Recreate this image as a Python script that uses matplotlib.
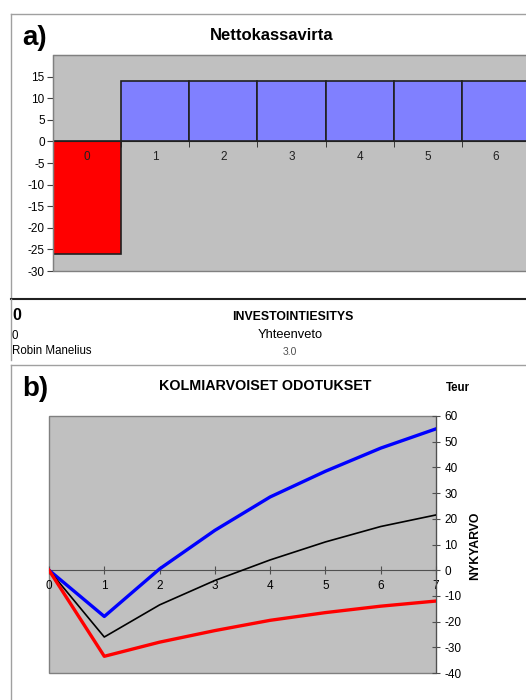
import matplotlib
matplotlib.use("Agg")
import matplotlib.pyplot as plt
from matplotlib.patches import Rectangle
from matplotlib.lines import Line2D

plt.rcParams["font.family"] = ["Liberation Sans", "DejaVu Sans"]
plt.rcParams["axes.unicode_minus"] = False

# a) Nettokassavirta
years_a = [0, 1, 2, 3, 4, 5, 6]
cash_flow = [-26, 14, 14, 14, 14, 14, 14]

# b) Kolmiarvoiset odotukset (nykyarvo, Teur)
years_b = [0, 1, 2, 3, 4, 5, 6, 7]
npv_optimistic = [0, -18, 0.5, 15.5, 28.5, 38.5, 47.5, 55]
npv_expected = [0, -26, -13.5, -4, 4, 11, 17, 21.5]
npv_pessimistic = [0, -33.5, -28, -23.5, -19.5, -16.5, -14, -12]

W, H = 526, 700
fig = plt.figure(figsize=(W / 100, H / 100), dpi=100)
fig.patch.set_facecolor("white")


def box(left, top, right, bottom):
    return [left / W, 1 - bottom / H, (right - left) / W, (bottom - top) / H]


def fx(px):
    return px / W


def fy(py):
    return 1 - py / H


# panel borders
grey = "#a0a0a0"
fig.add_artist(Line2D([fx(11), fx(11)], [fy(14), fy(299)], color=grey, lw=1))
fig.add_artist(Line2D([fx(11), 1], [fy(14), fy(14)], color=grey, lw=1))
fig.add_artist(Line2D([fx(11), 1], [fy(299), fy(299)], color="#202020", lw=1.5))
fig.add_artist(Line2D([fx(11), fx(11)], [fy(299), fy(360)], color=grey, lw=1))
fig.add_artist(Line2D([fx(11), 1], [fy(365), fy(365)], color=grey, lw=1))
fig.add_artist(Line2D([fx(11), fx(11)], [fy(365), 0], color=grey, lw=1))

# ---- a) bar chart ----
ax1 = fig.add_axes(box(53, 55, 530, 271))
ax1.set_facecolor("#c0c0c0")
ax1.set_axisbelow(False)
colors = ["#ff0000" if v < 0 else "#8080ff" for v in cash_flow]
ax1.bar(years_a, cash_flow, width=1.0, color=colors, edgecolor="#202020", linewidth=1.2, zorder=2)
ax1.set_xlim(-0.5, 6.5)
ax1.set_ylim(-30, 20)
ax1.set_yticks(range(-30, 20, 5))
ax1.set_xticks(years_a)
ax1.set_xticks([y + 0.5 for y in years_a], minor=True)
ax1.spines["bottom"].set_position(("data", 0))
ax1.spines["bottom"].set_color("#202020")
for s in ["top", "right", "left"]:
    ax1.spines[s].set_color("#808080")
ax1.add_patch(Rectangle((0, 0), 1, 1, transform=ax1.transAxes, fill=False,
                        edgecolor="#808080", lw=1, clip_on=False, zorder=4))
ax1.tick_params(axis="x", which="major", length=0, pad=7, labelsize=8.5, colors="#202020")
ax1.tick_params(axis="x", which="minor", length=4, direction="out", color="#202020")
ax1.tick_params(axis="y", length=4, direction="out", labelsize=8.5, color="#404040", pad=2)

fig.text(fx(272), fy(35), "Nettokassavirta", ha="center", va="center",
         fontsize=12, fontweight="bold")
fig.text(fx(22), fy(38), "a)", ha="left", va="center", fontsize=20, fontweight="bold")

# middle header block
fig.text(fx(12), fy(316), "0", ha="left", va="center", fontsize=11.5, fontweight="bold")
fig.text(fx(293), fy(317), "INVESTOINTIESITYS", ha="center", va="center",
         fontsize=8.8, fontweight="bold")
fig.text(fx(12), fy(336), "0", ha="left", va="center", fontsize=8.3)
fig.text(fx(290), fy(335), "Yhteenveto", ha="center", va="center", fontsize=9.3)
fig.text(fx(12), fy(351), "Robin Manelius", ha="left", va="center", fontsize=8.3)
fig.text(fx(290), fy(352), "3.0", ha="center", va="center", fontsize=7.5, color="#505050")

# ---- b) line chart ----
ax2 = fig.add_axes(box(49, 416, 436, 673))
ax2.set_facecolor("#c0c0c0")
ax2.plot(years_b, npv_optimistic, color="#0000ff", lw=2.4, zorder=3)
ax2.plot(years_b, npv_expected, color="#000000", lw=1.2, zorder=3)
ax2.plot(years_b, npv_pessimistic, color="#ff0000", lw=2.4, zorder=3)
ax2.set_xlim(0, 7)
ax2.set_ylim(-40, 60)
ax2.set_xticks(years_b)
ax2.set_yticks(range(-40, 61, 10))
ax2.yaxis.tick_right()
ax2.spines["bottom"].set_position(("data", 0))
ax2.spines["bottom"].set_color("#505050")
ax2.spines["left"].set_visible(False)
ax2.spines["top"].set_visible(False)
ax2.spines["right"].set_color("#505050")
ax2.add_patch(Rectangle((0, 0), 1, 1, transform=ax2.transAxes, fill=False,
                        edgecolor="#808080", lw=1, clip_on=False, zorder=1))
ax2.tick_params(axis="x", length=6, direction="inout", labelsize=8.5, pad=4, color="#505050")
ax2.tick_params(axis="y", length=6, direction="inout", labelsize=8.5, pad=3, color="#505050")

fig.text(fx(265), fy(386), "KOLMIARVOISET ODOTUKSET", ha="center", va="center",
         fontsize=10.3, fontweight="bold")
fig.text(fx(22), fy(389), "b)", ha="left", va="center", fontsize=20, fontweight="bold")
fig.text(fx(458), fy(388), "Teur", ha="center", va="center", fontsize=8.3, fontweight="bold")
fig.text(fx(475), fy(546), "NYKYARVO", ha="center", va="center", rotation=90,
         fontsize=8.8, fontweight="bold")

fig.savefig("out.png", dpi=100)
